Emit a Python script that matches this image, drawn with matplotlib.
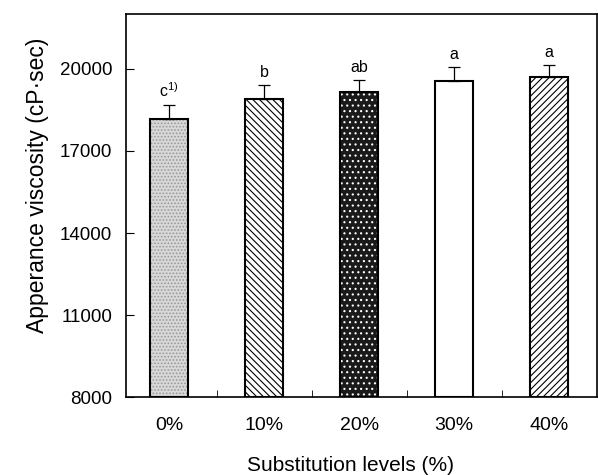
import matplotlib.pyplot as plt
import numpy as np

plt.rcParams['font.family'] = ['Liberation Sans', 'DejaVu Sans']
plt.rcParams['mathtext.fontset'] = 'custom'
plt.rcParams['mathtext.rm'] = 'Liberation Sans'
plt.rcParams['mathtext.it'] = 'Liberation Sans'
plt.rcParams['hatch.linewidth'] = 0.8

# data
levels = ['0%', '10%', '20%', '30%', '40%']
viscosity = [18170, 18900, 19160, 19560, 19710]
viscosity_err = [500, 510, 450, 510, 450]
letters = [r'c$^{1)}$', 'b', 'ab', 'a', 'a']

fig = plt.figure(figsize=(5.98, 4.75), dpi=100)
ax = fig.add_axes([0.211, 0.164, 0.787, 0.806])

x = np.arange(len(levels))
width = 0.4

# face fills, then hatch overlay, then outline
faces = ['#d8d8d8', 'white', '#1a1a1a', 'white', 'white']
hatches = ['.....', '\\\\\\\\\\', '...', None, '/////']
hatch_cols = ['#999999', 'black', 'white', 'black', 'black']

ax.bar(x, np.array(viscosity) - 8000, width, bottom=8000, color=faces, linewidth=0)
for i in range(len(levels)):
    if hatches[i] is not None:
        ax.bar(x[i], viscosity[i] - 8000, width, bottom=8000, color='none',
               edgecolor=hatch_cols[i], hatch=hatches[i], linewidth=0)
ax.bar(x, np.array(viscosity) - 8000, width, bottom=8000, color='none',
       edgecolor='black', linewidth=1.5)

ax.errorbar(x, viscosity, yerr=[np.zeros(len(x)), viscosity_err], fmt='none',
            ecolor='black', elinewidth=0.9, capsize=4.5, capthick=0.9)

for i in range(len(levels)):
    ax.text(x[i], viscosity[i] + viscosity_err[i] + 180, letters[i],
            ha='center', va='bottom', fontsize=11.5)

ax.set_xlim(-0.45, 4.5)
ax.set_ylim(8000, 22000)
ax.set_yticks([8000, 11000, 14000, 17000, 20000])
ax.set_xticks(x)
ax.set_xticklabels(levels)
ax.set_xticks([0.5, 1.5, 2.5, 3.5], minor=True)
ax.tick_params(axis='x', which='major', length=0, pad=14, labelsize=14)
ax.tick_params(axis='x', which='minor', direction='in', length=5)
ax.tick_params(axis='y', direction='in', length=6, labelsize=13.5, pad=10)

for s in ax.spines.values():
    s.set_linewidth(1.2)

ax.set_xlabel('Substitution levels (%)', fontsize=15)
ax.set_ylabel('Apperance viscosity (cP\u00b7sec)', fontsize=16.5)
ax.xaxis.set_label_coords(0.476, -0.155)
ax.yaxis.set_label_coords(-0.163, 0.553)

fig.savefig('out.png', dpi=100)
